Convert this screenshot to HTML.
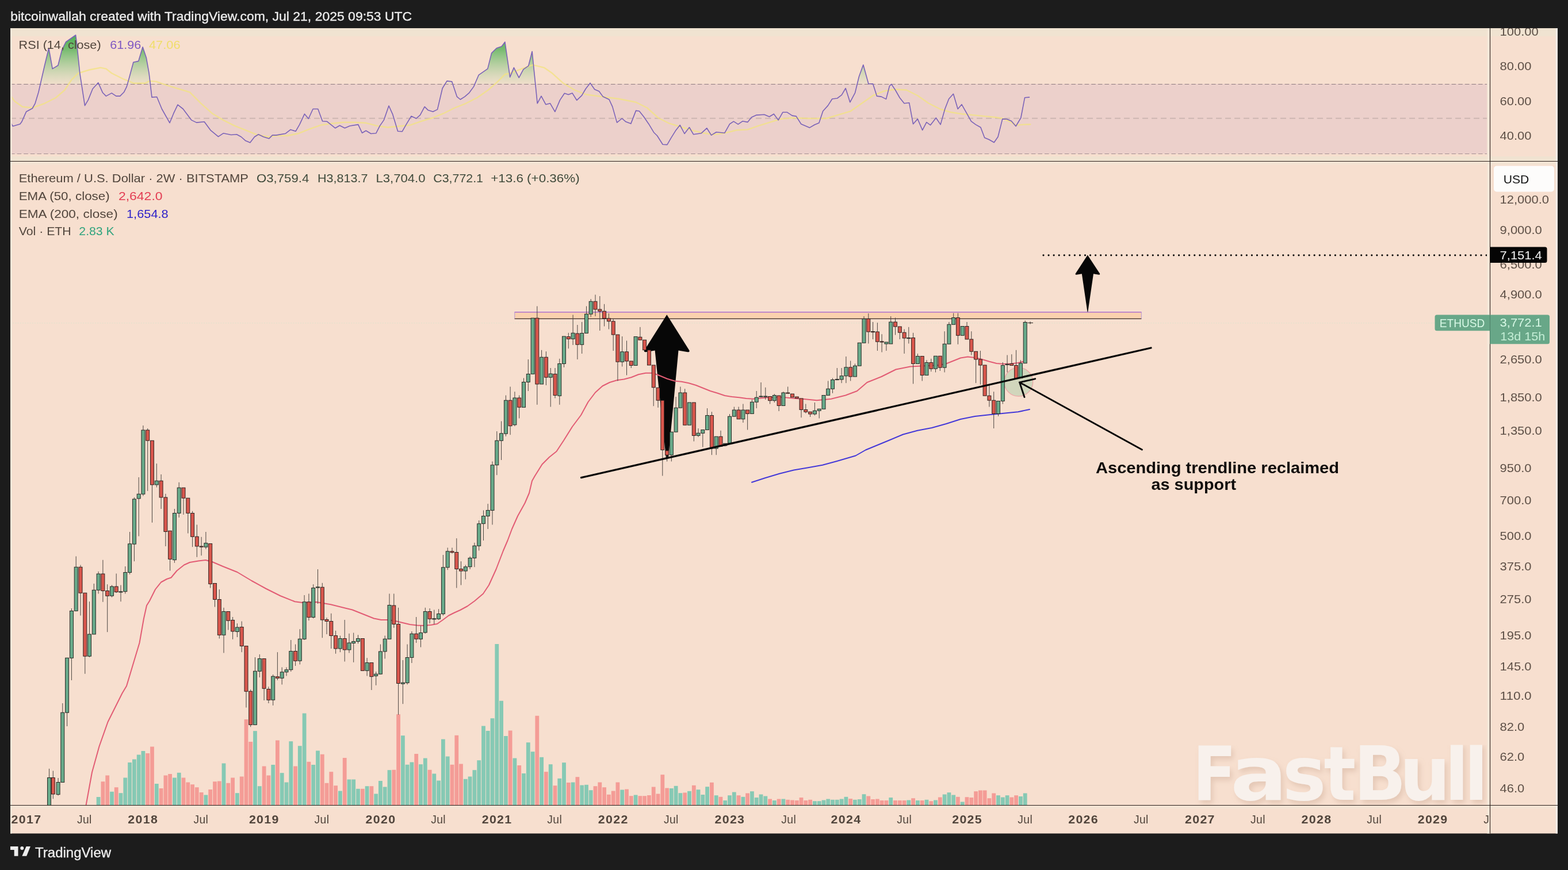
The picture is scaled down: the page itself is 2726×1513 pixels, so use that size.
<!DOCTYPE html>
<html lang="en"><head><meta charset="utf-8"><title>ETHUSD 2W chart</title>
<style>html,body{margin:0;padding:0;background:#1c1c1c;}body{width:2726px;height:1513px;font-family:"Liberation Sans", sans-serif;}svg{display:block;}text{font-family:"Liberation Sans", sans-serif;}</style>
</head><body>
<svg width="2726" height="1513" viewBox="0 0 2726 1513">
<defs>
<linearGradient id="rsig" gradientUnits="userSpaceOnUse" x1="0" y1="54" x2="0" y2="146"><stop offset="0" stop-color="#3fae4c" stop-opacity="1"/><stop offset="0.35" stop-color="#4caf50" stop-opacity="0.75"/><stop offset="1" stop-color="#8fce8f" stop-opacity="0.08"/></linearGradient>
<clipPath id="cpRsiTop"><rect x="18" y="49" width="2572.5" height="97"/></clipPath>
<clipPath id="cpRsi"><rect x="18" y="49" width="2572.5" height="231.5"/></clipPath>
<clipPath id="cpMain"><rect x="18" y="280.5" width="2572.5" height="1120"/></clipPath>
<clipPath id="cpTime"><rect x="18" y="1400.5" width="2572.5" height="49"/></clipPath>
<filter id="wmsh" x="-5%" y="-20%" width="110%" height="150%"><feDropShadow dx="4" dy="6" stdDeviation="5" flood-color="#b9927c" flood-opacity="0.30"/></filter>
</defs>
<rect x="0" y="0" width="2726" height="1513" fill="#1c1c1c"/>
<text x="18.2" y="36" font-size="22.5" fill="#ececec" stroke="#ececec" stroke-width="0.35" textLength="698" lengthAdjust="spacingAndGlyphs">bitcoinwallah created with TradingView.com, Jul 21, 2025 09:53 UTC</text>
<rect x="18" y="49" width="2690" height="1400.5" fill="#f7dfcf"/>
<rect x="18" y="49" width="2690" height="14" fill="#f0e3d1"/>
<rect x="18" y="272" width="2690" height="8.5" fill="#f0e3d1"/>
<g clip-path="url(#cpRsi)">
<rect x="18" y="146" width="2572.5" height="121.5" fill="#ecd0cb"/>
<path d="M18.4,146 L18.4,212.7 L22.3,219.5 L34.9,215.7 L37.8,211.8 L45.6,194.3 L56.3,188.5 L61.1,179.8 L67,160.3 L77.6,113.8 L84.8,83.7 L91.2,119.6 L100.9,113.8 L107.7,86.6 L114.5,73 L131.6,61 L133.9,78.8 L138.8,127.3 L147.5,183.6 L153.3,173.9 L161.1,154.5 L170.8,143.8 L178.6,161.3 L184.4,167.1 L194.1,161.9 L201.9,167.1 L208.7,167.1 L215.5,160.3 L220.3,150.6 L225.2,133.2 L231.9,108.3 L240.7,106.4 L248.1,81.7 L254.3,100.2 L259.1,127.3 L264,169.1 L272.7,168.5 L281.4,189.5 L295,213.7 L301.8,197.2 L309,182.1 L318.3,189.5 L332.9,208.9 L341.6,213.1 L355.2,211.8 L365.9,226.3 L379.5,237.6 L388.2,231.8 L401.8,234.5 L411.5,233.7 L419.3,238 L427,244.8 L434.8,248.1 L442.5,238 L449.3,233.7 L458.1,238 L467.8,240.9 L473.6,235.1 L480,235.1 L496.5,232.2 L505.2,225.4 L514,228.3 L520.8,216.6 L529.5,198.2 L536.3,206.5 L544.1,189.5 L552.8,189.5 L560.6,210.8 L568.3,211.2 L582.9,222.8 L590.6,218.2 L599.4,222.8 L608.1,219 L622.7,216.6 L629.5,231.2 L636.2,227.3 L645,232.5 L653.7,231.8 L660.5,218.6 L667.3,208.9 L676,184 L682.8,199.2 L691.6,228.3 L699.3,228.7 L706.1,216.6 L714.9,202.1 L723.6,206 L730.4,200.1 L738.2,185.6 L744,191.4 L752.7,194.3 L760.5,190.4 L769.2,153.5 L777,140.9 L785.7,141.9 L794.4,168.1 L800.3,173 L808,168.1 L815.8,161.3 L823.6,150.6 L832.3,130.3 L847.8,119.6 L854.6,92.4 L863.3,83.7 L872.1,80.8 L877.9,73 L886.6,134.1 L893.4,117.6 L902.2,135.1 L909.9,120.6 L918.7,114.7 L925.1,89.5 L934.2,179.8 L941,167.1 L948.8,181.7 L956.5,179.8 L964.9,194.3 L973.6,173.9 L981.4,162.3 L988.1,164.6 L994.9,161.9 L1002.7,174.3 L1011.4,166.2 L1018.2,154.5 L1026,144.4 L1033.8,155.5 L1041.5,158.8 L1048.3,168.1 L1059,173 L1064.8,185.6 L1072.6,213.1 L1081.3,206 L1088.1,211.8 L1096.8,215.1 L1105.6,192.4 L1111.4,193.3 L1119.2,203 L1127.9,215.7 L1136.6,230.2 L1142.5,236 L1152.2,251.2 L1159.9,251.6 L1166.7,239.9 L1174.5,227.3 L1182.2,217.6 L1190,232.5 L1198.4,221.5 L1205.5,233.7 L1219.1,231.8 L1228.8,222.8 L1236.6,235.1 L1245.3,229.8 L1259.9,231.2 L1268.6,215.7 L1275.4,211.2 L1283.2,216.2 L1290.9,210.8 L1299.7,212.4 L1306.5,204 L1315.2,200.1 L1328.8,199.2 L1337.5,203 L1345.3,198.2 L1353.1,208.9 L1360.8,195.3 L1368.6,195.3 L1377.3,201.1 L1384.1,202.1 L1392.8,215.7 L1407.4,222.1 L1416.1,217 L1423.9,213.7 L1430.7,193.3 L1439.4,183.6 L1446.8,172 L1455.5,171 L1463.3,165.2 L1470.1,153.5 L1477.8,177.8 L1486.6,161.3 L1493.4,133.2 L1500.8,112.8 L1509.9,145.8 L1517.6,145.8 L1524.4,167.1 L1532.2,168.1 L1540.5,172.4 L1546.4,149.7 L1549.7,146.4 L1556.5,156.5 L1564.2,170 L1572,179.8 L1580.7,178.8 L1587.5,215.7 L1595.3,206.9 L1603.6,226.3 L1610.8,212.7 L1617.6,217.6 L1627.3,205 L1635.1,216.6 L1642.8,189.5 L1649.6,172 L1657.4,163.3 L1665.2,189.5 L1671.9,181.7 L1680.7,197.2 L1688.4,210.8 L1696.2,216.6 L1704.9,221.5 L1711.7,239.5 L1719.5,242.8 L1728.2,247.7 L1735,238 L1742.8,206.9 L1750.6,207.3 L1758.3,210.4 L1766.1,219.5 L1774.8,205 L1781.6,169.7 L1789.4,169.1 L1789.4,146 Z" fill="url(#rsig)" clip-path="url(#cpRsiTop)"/>
<line x1="18" y1="146.5" x2="2590.5" y2="146.5" stroke="#8f7b80" stroke-width="1.1" stroke-dasharray="7.6 4"/>
<line x1="18" y1="205.7" x2="2590.5" y2="205.7" stroke="#cdb6b2" stroke-width="2" stroke-dasharray="10 6"/>
<line x1="18" y1="267.5" x2="2590.5" y2="267.5" stroke="#a48f92" stroke-width="1.1" stroke-dasharray="7.6 4"/>
<polyline points="18.4,166.2 25.2,175.9 38.8,185.6 56.3,187.5 77.6,179.8 97,170 112.6,156.5 124.2,139 135.9,127.3 155.3,121.5 174.7,117.6 184.4,119.6 194.1,127.3 213.5,137 232.9,144.8 252.3,144.8 260.1,140.9 271.7,141.9 291.1,148.7 310.6,154.5 330,160.3 349.4,179.8 368.8,197.2 388.2,208.9 407.6,218.6 427,226.3 446.4,234.1 465.8,238 480,236 499.4,236 518.8,232.2 538.2,224.4 557.6,217.6 577,214.7 596.5,212.7 615.9,212.7 635.3,213.7 654.7,218.6 674.1,221.5 693.5,219.5 712.9,217.6 732.3,210.8 751.7,205 771.1,197.2 790.6,187.5 810,179.8 829.4,170 848.8,156.5 864.3,142.9 877.9,129.3 887.6,127.3 907,119.6 926.4,112.8 945.8,117.6 960,127.3 979.4,144.8 998.8,156.5 1018.2,164.2 1047.3,168.1 1076.5,172 1105.6,177.8 1125,187.5 1144.4,205 1163.8,214.7 1183.2,220.5 1202.6,226.3 1222,231.2 1241.4,234.1 1260.9,231.2 1280.3,226.3 1299.7,225.4 1319.1,218.6 1338.5,212.7 1357.9,206.9 1377.3,205 1406.4,206 1435.5,206 1440,205 1459.4,199.2 1478.8,193.3 1498.2,179.8 1517.6,166.2 1537,158.4 1556.5,155.5 1575.9,156.5 1595.3,166.2 1614.7,179.8 1634.1,189.5 1653.5,195.3 1672.9,198.2 1692.3,200.1 1711.7,202.1 1731.1,204 1742.8,206 1754.4,210.8 1766.1,217.6 1779.7,216.6 1791.3,216.2" fill="none" stroke="#f2e283" stroke-width="2.4" stroke-linejoin="round" stroke-linecap="round" opacity="0.8"/>
<polyline points="18.4,212.7 22.3,219.5 34.9,215.7 37.8,211.8 45.6,194.3 56.3,188.5 61.1,179.8 67,160.3 77.6,113.8 84.8,83.7 91.2,119.6 100.9,113.8 107.7,86.6 114.5,73 131.6,61 133.9,78.8 138.8,127.3 147.5,183.6 153.3,173.9 161.1,154.5 170.8,143.8 178.6,161.3 184.4,167.1 194.1,161.9 201.9,167.1 208.7,167.1 215.5,160.3 220.3,150.6 225.2,133.2 231.9,108.3 240.7,106.4 248.1,81.7 254.3,100.2 259.1,127.3 264,169.1 272.7,168.5 281.4,189.5 295,213.7 301.8,197.2 309,182.1 318.3,189.5 332.9,208.9 341.6,213.1 355.2,211.8 365.9,226.3 379.5,237.6 388.2,231.8 401.8,234.5 411.5,233.7 419.3,238 427,244.8 434.8,248.1 442.5,238 449.3,233.7 458.1,238 467.8,240.9 473.6,235.1 480,235.1 496.5,232.2 505.2,225.4 514,228.3 520.8,216.6 529.5,198.2 536.3,206.5 544.1,189.5 552.8,189.5 560.6,210.8 568.3,211.2 582.9,222.8 590.6,218.2 599.4,222.8 608.1,219 622.7,216.6 629.5,231.2 636.2,227.3 645,232.5 653.7,231.8 660.5,218.6 667.3,208.9 676,184 682.8,199.2 691.6,228.3 699.3,228.7 706.1,216.6 714.9,202.1 723.6,206 730.4,200.1 738.2,185.6 744,191.4 752.7,194.3 760.5,190.4 769.2,153.5 777,140.9 785.7,141.9 794.4,168.1 800.3,173 808,168.1 815.8,161.3 823.6,150.6 832.3,130.3 847.8,119.6 854.6,92.4 863.3,83.7 872.1,80.8 877.9,73 886.6,134.1 893.4,117.6 902.2,135.1 909.9,120.6 918.7,114.7 925.1,89.5 934.2,179.8 941,167.1 948.8,181.7 956.5,179.8 964.9,194.3 973.6,173.9 981.4,162.3 988.1,164.6 994.9,161.9 1002.7,174.3 1011.4,166.2 1018.2,154.5 1026,144.4 1033.8,155.5 1041.5,158.8 1048.3,168.1 1059,173 1064.8,185.6 1072.6,213.1 1081.3,206 1088.1,211.8 1096.8,215.1 1105.6,192.4 1111.4,193.3 1119.2,203 1127.9,215.7 1136.6,230.2 1142.5,236 1152.2,251.2 1159.9,251.6 1166.7,239.9 1174.5,227.3 1182.2,217.6 1190,232.5 1198.4,221.5 1205.5,233.7 1219.1,231.8 1228.8,222.8 1236.6,235.1 1245.3,229.8 1259.9,231.2 1268.6,215.7 1275.4,211.2 1283.2,216.2 1290.9,210.8 1299.7,212.4 1306.5,204 1315.2,200.1 1328.8,199.2 1337.5,203 1345.3,198.2 1353.1,208.9 1360.8,195.3 1368.6,195.3 1377.3,201.1 1384.1,202.1 1392.8,215.7 1407.4,222.1 1416.1,217 1423.9,213.7 1430.7,193.3 1439.4,183.6 1446.8,172 1455.5,171 1463.3,165.2 1470.1,153.5 1477.8,177.8 1486.6,161.3 1493.4,133.2 1500.8,112.8 1509.9,145.8 1517.6,145.8 1524.4,167.1 1532.2,168.1 1540.5,172.4 1546.4,149.7 1549.7,146.4 1556.5,156.5 1564.2,170 1572,179.8 1580.7,178.8 1587.5,215.7 1595.3,206.9 1603.6,226.3 1610.8,212.7 1617.6,217.6 1627.3,205 1635.1,216.6 1642.8,189.5 1649.6,172 1657.4,163.3 1665.2,189.5 1671.9,181.7 1680.7,197.2 1688.4,210.8 1696.2,216.6 1704.9,221.5 1711.7,239.5 1719.5,242.8 1728.2,247.7 1735,238 1742.8,206.9 1750.6,207.3 1758.3,210.4 1766.1,219.5 1774.8,205 1781.6,169.7 1789.4,169.1" fill="none" stroke="#7a62b8" stroke-width="1.6" stroke-linejoin="round" stroke-linecap="round"/>
</g>
<text x="32.6" y="85" font-size="21" fill="#51453c" textLength="143" lengthAdjust="spacingAndGlyphs">RSI (14, close)</text>
<text x="191.2" y="85" font-size="21" fill="#7e57c2" textLength="54" lengthAdjust="spacingAndGlyphs">61.96</text>
<text x="259" y="85" font-size="21" fill="#f0de6a" textLength="54.5" lengthAdjust="spacingAndGlyphs">47.06</text>
<g clip-path="url(#cpMain)">
<line x1="18" y1="561.7" x2="2590.5" y2="561.7" stroke="#e6e2cd" stroke-width="1.6" stroke-dasharray="2 2.2"/>
<g><rect x="167.7" y="1386.0" width="6.8" height="14.5" fill="#86c9b4"/><rect x="175.5" y="1359.2" width="6.8" height="41.2" fill="#f49c96"/><rect x="183.3" y="1348.5" width="6.8" height="52.0" fill="#f49c96"/><rect x="191.1" y="1376.8" width="6.8" height="23.8" fill="#86c9b4"/><rect x="198.8" y="1369.2" width="6.8" height="31.2" fill="#f49c96"/><rect x="206.6" y="1379.2" width="6.8" height="21.2" fill="#86c9b4"/><rect x="214.4" y="1352.5" width="6.8" height="48.0" fill="#86c9b4"/><rect x="222.2" y="1326.0" width="6.8" height="74.5" fill="#86c9b4"/><rect x="230.0" y="1320.5" width="6.8" height="80.0" fill="#86c9b4"/><rect x="237.8" y="1312.5" width="6.8" height="88.0" fill="#86c9b4"/><rect x="245.5" y="1306.0" width="6.8" height="94.5" fill="#86c9b4"/><rect x="253.3" y="1310.0" width="6.8" height="90.5" fill="#f49c96"/><rect x="261.1" y="1298.5" width="6.8" height="102.0" fill="#f49c96"/><rect x="268.9" y="1363.0" width="6.8" height="37.5" fill="#86c9b4"/><rect x="276.7" y="1371.0" width="6.8" height="29.5" fill="#f49c96"/><rect x="284.5" y="1348.5" width="6.8" height="52.0" fill="#f49c96"/><rect x="292.2" y="1346.0" width="6.8" height="54.5" fill="#f49c96"/><rect x="300.0" y="1352.5" width="6.8" height="48.0" fill="#86c9b4"/><rect x="307.8" y="1343.8" width="6.8" height="56.8" fill="#86c9b4"/><rect x="315.6" y="1352.5" width="6.8" height="48.0" fill="#f49c96"/><rect x="323.4" y="1360.5" width="6.8" height="40.0" fill="#f49c96"/><rect x="331.2" y="1364.2" width="6.8" height="36.2" fill="#f49c96"/><rect x="338.9" y="1369.2" width="6.8" height="31.2" fill="#f49c96"/><rect x="346.7" y="1378.0" width="6.8" height="22.5" fill="#f49c96"/><rect x="354.5" y="1382.5" width="6.8" height="18.0" fill="#86c9b4"/><rect x="362.3" y="1373.0" width="6.8" height="27.5" fill="#f49c96"/><rect x="370.1" y="1359.2" width="6.8" height="41.2" fill="#f49c96"/><rect x="377.9" y="1358.5" width="6.8" height="42.0" fill="#f49c96"/><rect x="385.6" y="1327.5" width="6.8" height="73.0" fill="#86c9b4"/><rect x="393.4" y="1361.8" width="6.8" height="38.8" fill="#f49c96"/><rect x="401.2" y="1352.5" width="6.8" height="48.0" fill="#f49c96"/><rect x="409.0" y="1379.2" width="6.8" height="21.2" fill="#86c9b4"/><rect x="416.8" y="1350.5" width="6.8" height="50.0" fill="#f49c96"/><rect x="424.6" y="1251.0" width="6.8" height="149.5" fill="#f49c96"/><rect x="432.3" y="1290.0" width="6.8" height="110.5" fill="#f49c96"/><rect x="440.1" y="1271.2" width="6.8" height="129.2" fill="#86c9b4"/><rect x="447.9" y="1367.2" width="6.8" height="33.2" fill="#86c9b4"/><rect x="455.7" y="1332.5" width="6.8" height="68.0" fill="#f49c96"/><rect x="463.5" y="1348.5" width="6.8" height="52.0" fill="#f49c96"/><rect x="471.3" y="1330.0" width="6.8" height="70.5" fill="#86c9b4"/><rect x="479.0" y="1287.5" width="6.8" height="113.0" fill="#f49c96"/><rect x="486.8" y="1344.2" width="6.8" height="56.2" fill="#86c9b4"/><rect x="494.6" y="1360.5" width="6.8" height="40.0" fill="#86c9b4"/><rect x="502.4" y="1289.2" width="6.8" height="111.2" fill="#86c9b4"/><rect x="510.2" y="1332.5" width="6.8" height="68.0" fill="#f49c96"/><rect x="517.9" y="1297.2" width="6.8" height="103.2" fill="#86c9b4"/><rect x="525.7" y="1240.5" width="6.8" height="160.0" fill="#86c9b4"/><rect x="533.5" y="1324.8" width="6.8" height="75.8" fill="#f49c96"/><rect x="541.3" y="1330.0" width="6.8" height="70.5" fill="#86c9b4"/><rect x="549.1" y="1305.5" width="6.8" height="95.0" fill="#86c9b4"/><rect x="556.9" y="1311.8" width="6.8" height="88.8" fill="#f49c96"/><rect x="564.6" y="1361.8" width="6.8" height="38.8" fill="#f49c96"/><rect x="572.4" y="1342.2" width="6.8" height="58.2" fill="#f49c96"/><rect x="580.2" y="1366.2" width="6.8" height="34.2" fill="#f49c96"/><rect x="588.0" y="1375.5" width="6.8" height="25.0" fill="#86c9b4"/><rect x="595.8" y="1318.0" width="6.8" height="82.5" fill="#f49c96"/><rect x="603.6" y="1355.5" width="6.8" height="45.0" fill="#86c9b4"/><rect x="611.3" y="1355.5" width="6.8" height="45.0" fill="#86c9b4"/><rect x="619.1" y="1371.8" width="6.8" height="28.8" fill="#86c9b4"/><rect x="626.9" y="1371.8" width="6.8" height="28.8" fill="#f49c96"/><rect x="634.7" y="1367.2" width="6.8" height="33.2" fill="#86c9b4"/><rect x="642.5" y="1367.2" width="6.8" height="33.2" fill="#f49c96"/><rect x="650.3" y="1380.5" width="6.8" height="20.0" fill="#86c9b4"/><rect x="658.0" y="1358.0" width="6.8" height="42.5" fill="#86c9b4"/><rect x="665.8" y="1368.5" width="6.8" height="32.0" fill="#86c9b4"/><rect x="673.6" y="1339.2" width="6.8" height="61.2" fill="#86c9b4"/><rect x="681.4" y="1338.8" width="6.8" height="61.8" fill="#f49c96"/><rect x="689.2" y="1242.2" width="6.8" height="158.2" fill="#f49c96"/><rect x="697.0" y="1279.2" width="6.8" height="121.2" fill="#86c9b4"/><rect x="704.7" y="1329.8" width="6.8" height="70.8" fill="#86c9b4"/><rect x="712.5" y="1325.5" width="6.8" height="75.0" fill="#86c9b4"/><rect x="720.3" y="1311.0" width="6.8" height="89.5" fill="#f49c96"/><rect x="728.1" y="1329.2" width="6.8" height="71.2" fill="#86c9b4"/><rect x="735.9" y="1318.5" width="6.8" height="82.0" fill="#86c9b4"/><rect x="743.7" y="1338.8" width="6.8" height="61.8" fill="#f49c96"/><rect x="751.4" y="1345.5" width="6.8" height="55.0" fill="#86c9b4"/><rect x="759.2" y="1357.5" width="6.8" height="43.0" fill="#86c9b4"/><rect x="767.0" y="1285.5" width="6.8" height="115.0" fill="#86c9b4"/><rect x="774.8" y="1315.5" width="6.8" height="85.0" fill="#86c9b4"/><rect x="782.6" y="1329.8" width="6.8" height="70.8" fill="#f49c96"/><rect x="790.4" y="1278.8" width="6.8" height="121.8" fill="#f49c96"/><rect x="798.1" y="1328.5" width="6.8" height="72.0" fill="#f49c96"/><rect x="805.9" y="1354.8" width="6.8" height="45.8" fill="#86c9b4"/><rect x="813.7" y="1350.5" width="6.8" height="50.0" fill="#86c9b4"/><rect x="821.5" y="1339.2" width="6.8" height="61.2" fill="#86c9b4"/><rect x="829.3" y="1322.2" width="6.8" height="78.2" fill="#86c9b4"/><rect x="837.1" y="1262.5" width="6.8" height="138.0" fill="#86c9b4"/><rect x="844.8" y="1271.0" width="6.8" height="129.5" fill="#86c9b4"/><rect x="852.6" y="1249.2" width="6.8" height="151.2" fill="#86c9b4"/><rect x="860.4" y="1120.0" width="6.8" height="280.5" fill="#86c9b4"/><rect x="868.2" y="1218.8" width="6.8" height="181.8" fill="#86c9b4"/><rect x="876.0" y="1280.0" width="6.8" height="120.5" fill="#86c9b4"/><rect x="883.7" y="1270.5" width="6.8" height="130.0" fill="#f49c96"/><rect x="891.5" y="1318.5" width="6.8" height="82.0" fill="#86c9b4"/><rect x="899.3" y="1331.0" width="6.8" height="69.5" fill="#f49c96"/><rect x="907.1" y="1345.0" width="6.8" height="55.5" fill="#86c9b4"/><rect x="914.9" y="1291.2" width="6.8" height="109.2" fill="#86c9b4"/><rect x="922.7" y="1307.2" width="6.8" height="93.2" fill="#86c9b4"/><rect x="930.4" y="1244.8" width="6.8" height="155.8" fill="#f49c96"/><rect x="938.2" y="1316.8" width="6.8" height="83.8" fill="#86c9b4"/><rect x="946.0" y="1342.2" width="6.8" height="58.2" fill="#f49c96"/><rect x="953.8" y="1329.2" width="6.8" height="71.2" fill="#86c9b4"/><rect x="961.6" y="1366.2" width="6.8" height="34.2" fill="#f49c96"/><rect x="969.4" y="1353.8" width="6.8" height="46.8" fill="#86c9b4"/><rect x="977.1" y="1326.2" width="6.8" height="74.2" fill="#86c9b4"/><rect x="984.9" y="1361.0" width="6.8" height="39.5" fill="#f49c96"/><rect x="992.7" y="1360.5" width="6.8" height="40.0" fill="#86c9b4"/><rect x="1000.5" y="1351.2" width="6.8" height="49.2" fill="#f49c96"/><rect x="1008.3" y="1365.5" width="6.8" height="35.0" fill="#86c9b4"/><rect x="1016.1" y="1364.8" width="6.8" height="35.8" fill="#86c9b4"/><rect x="1023.8" y="1374.2" width="6.8" height="26.2" fill="#86c9b4"/><rect x="1031.6" y="1367.2" width="6.8" height="33.2" fill="#f49c96"/><rect x="1039.4" y="1360.5" width="6.8" height="40.0" fill="#f49c96"/><rect x="1047.2" y="1369.2" width="6.8" height="31.2" fill="#f49c96"/><rect x="1055.0" y="1381.8" width="6.8" height="18.8" fill="#f49c96"/><rect x="1062.8" y="1375.5" width="6.8" height="25.0" fill="#f49c96"/><rect x="1070.5" y="1360.5" width="6.8" height="40.0" fill="#f49c96"/><rect x="1078.3" y="1373.5" width="6.8" height="27.0" fill="#86c9b4"/><rect x="1086.1" y="1372.5" width="6.8" height="28.0" fill="#f49c96"/><rect x="1093.9" y="1384.2" width="6.8" height="16.2" fill="#f49c96"/><rect x="1101.7" y="1382.5" width="6.8" height="18.0" fill="#86c9b4"/><rect x="1109.5" y="1384.2" width="6.8" height="16.2" fill="#f49c96"/><rect x="1117.2" y="1384.2" width="6.8" height="16.2" fill="#f49c96"/><rect x="1125.0" y="1383.0" width="6.8" height="17.5" fill="#f49c96"/><rect x="1132.8" y="1368.5" width="6.8" height="32.0" fill="#f49c96"/><rect x="1140.6" y="1380.5" width="6.8" height="20.0" fill="#f49c96"/><rect x="1148.4" y="1347.2" width="6.8" height="53.2" fill="#f49c96"/><rect x="1156.2" y="1370.5" width="6.8" height="30.0" fill="#f49c96"/><rect x="1163.9" y="1371.0" width="6.8" height="29.5" fill="#86c9b4"/><rect x="1171.7" y="1366.8" width="6.8" height="33.8" fill="#86c9b4"/><rect x="1179.5" y="1379.2" width="6.8" height="21.2" fill="#86c9b4"/><rect x="1187.3" y="1378.5" width="6.8" height="22.0" fill="#f49c96"/><rect x="1195.1" y="1375.8" width="6.8" height="24.8" fill="#86c9b4"/><rect x="1202.9" y="1365.8" width="6.8" height="34.8" fill="#f49c96"/><rect x="1210.6" y="1373.2" width="6.8" height="27.2" fill="#86c9b4"/><rect x="1218.4" y="1382.0" width="6.8" height="18.5" fill="#86c9b4"/><rect x="1226.2" y="1368.2" width="6.8" height="32.2" fill="#86c9b4"/><rect x="1234.0" y="1360.8" width="6.8" height="39.8" fill="#f49c96"/><rect x="1241.8" y="1383.2" width="6.8" height="17.2" fill="#86c9b4"/><rect x="1249.5" y="1385.8" width="6.8" height="14.8" fill="#f49c96"/><rect x="1257.3" y="1392.0" width="6.8" height="8.5" fill="#86c9b4"/><rect x="1265.1" y="1383.2" width="6.8" height="17.2" fill="#86c9b4"/><rect x="1272.9" y="1377.5" width="6.8" height="23.0" fill="#86c9b4"/><rect x="1280.7" y="1383.2" width="6.8" height="17.2" fill="#f49c96"/><rect x="1288.5" y="1385.8" width="6.8" height="14.8" fill="#86c9b4"/><rect x="1296.2" y="1379.5" width="6.8" height="21.0" fill="#f49c96"/><rect x="1304.0" y="1376.2" width="6.8" height="24.2" fill="#86c9b4"/><rect x="1311.8" y="1387.0" width="6.8" height="13.5" fill="#86c9b4"/><rect x="1319.6" y="1381.5" width="6.8" height="19.0" fill="#86c9b4"/><rect x="1327.4" y="1384.5" width="6.8" height="16.0" fill="#86c9b4"/><rect x="1335.2" y="1389.5" width="6.8" height="11.0" fill="#f49c96"/><rect x="1342.9" y="1392.0" width="6.8" height="8.5" fill="#86c9b4"/><rect x="1350.7" y="1389.5" width="6.8" height="11.0" fill="#f49c96"/><rect x="1358.5" y="1389.5" width="6.8" height="11.0" fill="#86c9b4"/><rect x="1366.3" y="1390.8" width="6.8" height="9.8" fill="#f49c96"/><rect x="1374.1" y="1391.5" width="6.8" height="9.0" fill="#f49c96"/><rect x="1381.9" y="1392.0" width="6.8" height="8.5" fill="#f49c96"/><rect x="1389.6" y="1387.0" width="6.8" height="13.5" fill="#f49c96"/><rect x="1397.4" y="1392.0" width="6.8" height="8.5" fill="#f49c96"/><rect x="1405.2" y="1390.8" width="6.8" height="9.8" fill="#f49c96"/><rect x="1413.0" y="1393.2" width="6.8" height="7.2" fill="#86c9b4"/><rect x="1420.8" y="1393.2" width="6.8" height="7.2" fill="#86c9b4"/><rect x="1428.6" y="1391.5" width="6.8" height="9.0" fill="#86c9b4"/><rect x="1436.3" y="1389.5" width="6.8" height="11.0" fill="#86c9b4"/><rect x="1444.1" y="1390.8" width="6.8" height="9.8" fill="#86c9b4"/><rect x="1451.9" y="1390.8" width="6.8" height="9.8" fill="#86c9b4"/><rect x="1459.7" y="1389.5" width="6.8" height="11.0" fill="#86c9b4"/><rect x="1467.5" y="1385.8" width="6.8" height="14.8" fill="#86c9b4"/><rect x="1475.3" y="1389.0" width="6.8" height="11.5" fill="#f49c96"/><rect x="1483.0" y="1390.8" width="6.8" height="9.8" fill="#86c9b4"/><rect x="1490.8" y="1390.0" width="6.8" height="10.5" fill="#86c9b4"/><rect x="1498.6" y="1381.2" width="6.8" height="19.2" fill="#86c9b4"/><rect x="1506.4" y="1384.5" width="6.8" height="16.0" fill="#f49c96"/><rect x="1514.2" y="1390.0" width="6.8" height="10.5" fill="#f49c96"/><rect x="1522.0" y="1389.5" width="6.8" height="11.0" fill="#f49c96"/><rect x="1529.7" y="1392.0" width="6.8" height="8.5" fill="#f49c96"/><rect x="1537.5" y="1392.0" width="6.8" height="8.5" fill="#f49c96"/><rect x="1545.3" y="1387.0" width="6.8" height="13.5" fill="#86c9b4"/><rect x="1553.1" y="1392.0" width="6.8" height="8.5" fill="#f49c96"/><rect x="1560.9" y="1392.0" width="6.8" height="8.5" fill="#f49c96"/><rect x="1568.7" y="1392.0" width="6.8" height="8.5" fill="#f49c96"/><rect x="1576.4" y="1391.5" width="6.8" height="9.0" fill="#86c9b4"/><rect x="1584.2" y="1388.2" width="6.8" height="12.2" fill="#f49c96"/><rect x="1592.0" y="1392.0" width="6.8" height="8.5" fill="#86c9b4"/><rect x="1599.8" y="1392.0" width="6.8" height="8.5" fill="#f49c96"/><rect x="1607.6" y="1390.8" width="6.8" height="9.8" fill="#86c9b4"/><rect x="1615.4" y="1393.2" width="6.8" height="7.2" fill="#f49c96"/><rect x="1623.1" y="1391.5" width="6.8" height="9.0" fill="#86c9b4"/><rect x="1630.9" y="1386.5" width="6.8" height="14.0" fill="#f49c96"/><rect x="1638.7" y="1381.5" width="6.8" height="19.0" fill="#86c9b4"/><rect x="1646.5" y="1378.2" width="6.8" height="22.2" fill="#86c9b4"/><rect x="1654.3" y="1382.5" width="6.8" height="18.0" fill="#86c9b4"/><rect x="1662.0" y="1385.8" width="6.8" height="14.8" fill="#f49c96"/><rect x="1669.8" y="1394.5" width="6.8" height="6.0" fill="#86c9b4"/><rect x="1677.6" y="1386.2" width="6.8" height="14.2" fill="#f49c96"/><rect x="1685.4" y="1387.0" width="6.8" height="13.5" fill="#f49c96"/><rect x="1693.2" y="1376.2" width="6.8" height="24.2" fill="#f49c96"/><rect x="1701.0" y="1374.5" width="6.8" height="26.0" fill="#f49c96"/><rect x="1708.7" y="1374.5" width="6.8" height="26.0" fill="#f49c96"/><rect x="1716.5" y="1388.2" width="6.8" height="12.2" fill="#f49c96"/><rect x="1724.3" y="1379.5" width="6.8" height="21.0" fill="#f49c96"/><rect x="1732.1" y="1383.2" width="6.8" height="17.2" fill="#86c9b4"/><rect x="1739.9" y="1386.5" width="6.8" height="14.0" fill="#86c9b4"/><rect x="1747.7" y="1383.2" width="6.8" height="17.2" fill="#86c9b4"/><rect x="1755.4" y="1386.5" width="6.8" height="14.0" fill="#f49c96"/><rect x="1763.2" y="1383.2" width="6.8" height="17.2" fill="#f49c96"/><rect x="1771.0" y="1385.0" width="6.8" height="15.5" fill="#86c9b4"/><rect x="1778.8" y="1379.5" width="6.8" height="21.0" fill="#86c9b4"/></g>
<rect x="894.5" y="543.2" width="1090" height="11" fill="#fbd1ae"/>
<line x1="894.5" y1="542.8" x2="1984.5" y2="542.8" stroke="#9b59d0" stroke-width="1.2"/>
<line x1="894.5" y1="554.4" x2="1984.5" y2="554.4" stroke="#3a2c28" stroke-width="1.1"/>
<line x1="894.8" y1="542.8" x2="894.8" y2="554.4" stroke="#b79ad8" stroke-width="1"/>
<line x1="1984.3" y1="542.8" x2="1984.3" y2="554.4" stroke="#b79ad8" stroke-width="1"/>
<path d="M1159.3,547.2 L1198.3,609.3 Q1199.6,612.6 1195.6,612.2 L1179.5,609.6 L1161.9,796.5 Q1159.9,798.5 1157.9,796.5 L1138.6,609.6 L1122.6,612.2 Q1118.8,612.6 1120.2,609.3 Z" fill="#070707"/>
<circle cx="1770.8" cy="664.2" r="25" fill="#8cc79b" fill-opacity="0.36" stroke="#ee9aa0" stroke-width="1.2" stroke-opacity="0.85"/>
<polyline points="149.5,1400.5 160,1343 172.5,1298 187.5,1255.5 200,1230.5 212.5,1205.5 220,1193 227.5,1168 235,1143 242.5,1118 250,1075.5 255,1053 260,1045 270,1025 280,1012.5 290,1007 297.5,1004.5 307.5,992.5 320,982.5 330,978 345,975.5 357.5,974 370,977.5 387.5,985 412.5,995 437.5,1010 462.5,1023.75 487.5,1036.25 512.5,1046.25 527.5,1048.25 550,1047 575,1051.25 600,1057.5 612.5,1060.5 625,1065.5 637.5,1070.5 650,1075.5 662.5,1078 675,1078 687.5,1080 700,1083 712.5,1086 725,1087.5 737.5,1088 750,1086.75 760,1085 770,1078 780,1070.5 790,1065.5 800,1061 812.5,1054.25 825,1045.2 840,1032.5 850,1017.5 862.5,990 875,957.5 882.5,940 890,920 900,897.5 912.5,875 920,857.5 925,836.25 930,827.5 942.5,807.5 955,795 967.5,785 980,766 995,742 1010,722 1022.5,699 1035,682.5 1047.5,671.25 1060,665 1072.5,661.25 1085,659.5 1097.5,656.25 1110,651.25 1122.5,648.75 1135,648.75 1145,652.5 1160,658.75 1172.5,662.5 1185,663.75 1197.5,666.25 1210,670 1222.5,675 1235,680 1247.5,683.75 1260,688 1272.5,690 1285,691.25 1297.5,693 1310,693.75 1322.5,692.5 1335,691.25 1347.5,690.75 1360,690.75 1372.5,692 1385,693.25 1395,693.75 1420,696.25 1445,693.75 1470,687.5 1490,680 1507.5,665 1532.5,655 1557.5,642.5 1582.5,637.5 1607.5,636.25 1632.5,635 1645,632.5 1657.5,627.5 1670,622.5 1682.5,620.5 1695,622 1707.5,625 1720,628.75 1732.5,632 1745,633 1757.5,632.5 1770,631 1782.5,628" fill="none" stroke="#e25c74" stroke-width="2" stroke-linejoin="round" stroke-linecap="round"/>
<polyline points="1307,838.75 1330,831.25 1355,823.75 1380,817.5 1405,813.25 1430,808.75 1455,802 1487.5,792.5 1505,782.5 1525,774.25 1545,766 1570,755.5 1595,748.75 1620,744 1645,737 1670,729 1695,724 1720,721.25 1745,718.75 1770,716.25 1790,712" fill="none" stroke="#4338d8" stroke-width="2" stroke-linejoin="round" stroke-linecap="round"/>
<path d="M85.5,1336.8 V1400.5 M92.3,1340.5 V1389.2 M101.1,1353.0 V1383.5 M108.8,1223.0 V1360.5 M116.6,1144.2 V1263.0 M124.4,1058.0 V1183.0 M132.2,967.5 V1062.5 M140.0,982.5 V1070.5 M147.8,1031.2 V1171.8 M155.5,1046.2 V1143.0 M163.3,1015.0 V1103.0 M171.1,993.8 V1032.5 M178.9,973.8 V1046.8 M186.7,1016.2 V1099.2 M194.5,1017.5 V1038.8 M202.2,997.5 V1031.2 M210.0,1017.5 V1046.2 M217.8,985.0 V1032.5 M225.6,925.0 V998.8 M233.4,865.0 V976.2 M241.2,830.0 V932.5 M248.9,740.0 V862.5 M256.7,745.0 V853.8 M264.5,766.2 V908.8 M272.3,806.2 V847.5 M280.1,825.0 V885.0 M287.9,858.8 V950.0 M295.6,923.2 V992.5 M303.4,885.0 V978.8 M311.2,838.8 V900.0 M319.0,848.2 V895.0 M326.8,866.2 V927.5 M334.6,888.8 V951.2 M342.3,912.5 V968.8 M350.1,933.8 V966.2 M357.9,925.0 V955.0 M365.7,945.5 V1022.5 M373.5,1014.5 V1055.5 M381.3,1025.0 V1110.5 M389.0,1056.8 V1135.5 M396.8,1063.5 V1095.5 M404.6,1073.0 V1111.8 M412.4,1084.2 V1108.0 M420.2,1080.5 V1134.2 M428.0,1123.5 V1230.5 M435.7,1199.2 V1264.2 M443.5,1143.0 V1260.5 M451.3,1138.0 V1178.0 M459.1,1145.5 V1218.0 M466.9,1194.2 V1223.0 M474.7,1173.0 V1226.8 M482.4,1134.2 V1183.0 M490.2,1160.5 V1190.5 M498.0,1160.5 V1175.5 M505.8,1113.0 V1168.0 M513.6,1120.5 V1158.0 M521.3,1094.2 V1155.5 M529.1,1035.0 V1113.0 M536.9,1032.5 V1079.2 M544.7,1016.2 V1075.5 M552.5,990.0 V1050.0 M560.3,1013.8 V1109.2 M568.0,1074.2 V1103.0 M575.8,1066.8 V1128.0 M583.6,1096.8 V1136.8 M591.4,1105.5 V1134.2 M599.2,1078.0 V1150.5 M607.0,1101.8 V1135.5 M614.7,1100.5 V1151.8 M622.5,1104.2 V1119.2 M630.3,1110.5 V1166.8 M638.1,1144.2 V1175.5 M645.9,1152.5 V1200.0 M653.7,1168.0 V1191.8 M661.4,1120.5 V1173.0 M669.2,1105.5 V1145.5 M677.0,1032.5 V1111.2 M684.8,1032.5 V1091.8 M692.6,1056.8 V1243.0 M700.4,1148.0 V1224.2 M708.1,1120.5 V1190.5 M715.9,1098.0 V1153.0 M723.7,1073.0 V1118.0 M731.5,1088.0 V1125.5 M739.3,1056.8 V1101.8 M747.1,1058.0 V1084.2 M754.8,1060.5 V1085.5 M762.6,1059.2 V1078.0 M770.4,965.0 V1070.5 M778.2,952.5 V991.2 M786.0,952.5 V962.5 M793.8,936.2 V1022.5 M801.5,976.2 V1017.5 M809.3,982.5 V1007.5 M817.1,967.5 V990.0 M824.9,943.8 V986.2 M832.7,905.0 V957.5 M840.5,887.5 V940.0 M848.2,876.2 V920.0 M856.0,802.5 V912.5 M863.8,750.0 V826.2 M871.6,732.5 V800.0 M879.4,687.5 V758.8 M887.1,672.5 V756.2 M894.9,681.2 V741.2 M902.7,687.5 V727.5 M910.5,657.5 V708.2 M918.3,625.0 V680.0 M926.1,553.2 V650.5 M933.8,532.5 V703.8 M941.6,608.8 V668.0 M949.4,611.2 V670.0 M957.2,640.0 V707.5 M965.0,640.0 V692.5 M972.8,623.8 V703.8 M980.5,585.0 V638.8 M988.3,578.8 V606.2 M996.1,547.5 V600.0 M1003.9,565.0 V625.0 M1011.7,560.0 V615.0 M1019.5,532.5 V579.5 M1027.2,520.0 V551.2 M1035.0,512.5 V550.0 M1042.8,515.0 V575.0 M1050.6,528.8 V567.5 M1058.4,545.0 V572.5 M1066.2,553.8 V610.0 M1073.9,582.0 V662.5 M1081.7,585.0 V637.5 M1089.5,592.5 V652.5 M1097.3,628.0 V640.0 M1105.1,585.5 V635.5 M1112.9,568.8 V591.2 M1120.6,591.2 V608.8 M1128.4,608.8 V635.0 M1136.2,635.0 V706.2 M1144.0,674.2 V708.8 M1151.8,696.2 V827.5 M1159.6,783.8 V802.5 M1167.3,751.2 V802.5 M1175.1,690.0 V751.2 M1182.9,672.5 V709.2 M1190.7,676.2 V739.2 M1198.5,700.0 V739.2 M1206.3,700.0 V767.5 M1214.0,745.0 V760.0 M1221.8,747.5 V777.5 M1229.6,710.0 V747.5 M1237.4,716.2 V791.2 M1245.2,759.2 V791.2 M1253.0,748.8 V776.2 M1260.7,771.2 V776.2 M1268.5,720.0 V771.2 M1276.3,707.5 V724.2 M1284.1,707.5 V728.8 M1291.9,702.5 V735.0 M1299.6,713.0 V747.5 M1307.4,695.0 V719.5 M1315.2,680.0 V710.0 M1323.0,665.0 V690.5 M1330.8,673.8 V695.0 M1338.6,689.5 V702.5 M1346.3,685.0 V700.0 M1354.1,688.0 V715.0 M1361.9,681.2 V705.5 M1369.7,672.5 V684.0 M1377.5,685.0 V690.8 M1385.3,690.0 V692.5 M1393.0,693.0 V726.2 M1400.8,702.5 V718.8 M1408.6,716.2 V725.0 M1416.4,700.0 V722.5 M1424.2,711.2 V727.5 M1432.0,687.5 V711.2 M1439.7,662.5 V687.5 M1447.5,657.5 V683.8 M1455.3,640.0 V661.2 M1463.1,640.0 V666.2 M1470.9,620.0 V666.2 M1478.7,627.5 V662.5 M1486.4,632.5 V655.0 M1494.2,596.2 V636.2 M1502.0,550.0 V596.2 M1509.8,545.0 V597.5 M1517.6,560.0 V590.0 M1525.4,561.2 V610.0 M1533.1,581.2 V612.5 M1540.9,595.0 V610.0 M1548.7,550.0 V598.0 M1556.5,552.5 V582.5 M1564.3,568.0 V590.0 M1572.1,572.5 V615.0 M1579.8,568.8 V597.5 M1587.6,578.8 V667.5 M1595.4,615.0 V632.5 M1603.2,619.5 V662.5 M1611.0,626.2 V652.5 M1618.8,623.8 V646.2 M1626.5,619.2 V647.5 M1634.3,619.2 V645.0 M1642.1,576.2 V647.5 M1649.9,560.0 V598.2 M1657.7,544.5 V564.2 M1665.4,544.5 V598.8 M1673.2,567.5 V583.2 M1681.0,560.0 V590.0 M1688.8,576.2 V617.5 M1696.6,611.2 V666.2 M1704.4,610.0 V668.8 M1712.1,635.0 V688.2 M1719.9,668.8 V707.5 M1727.7,681.2 V745.0 M1735.5,697.5 V723.8 M1743.3,630.0 V702.5 M1751.1,617.5 V647.5 M1758.8,616.2 V635.5 M1766.6,608.8 V657.5 M1774.4,626.2 V657.5 M1782.2,557.5 V631.8" stroke="#4a4540" stroke-width="1" fill="none"/>
<g stroke="#1d1a18" stroke-width="0.9"><rect x="82.5" y="1352.5" width="6" height="48.0" fill="#68aa8a"/><rect x="89.3" y="1352.5" width="6" height="28.5" fill="#d8564c"/><rect x="98.1" y="1360.5" width="6" height="21.2" fill="#68aa8a"/><rect x="105.8" y="1239.2" width="6" height="121.2" fill="#68aa8a"/><rect x="113.6" y="1144.2" width="6" height="95.0" fill="#68aa8a"/><rect x="121.4" y="1062.5" width="6" height="81.8" fill="#68aa8a"/><rect x="129.2" y="986.2" width="6" height="76.2" fill="#68aa8a"/><rect x="137.0" y="986.2" width="6" height="45.0" fill="#d8564c"/><rect x="144.8" y="1031.2" width="6" height="110.0" fill="#d8564c"/><rect x="152.5" y="1103.0" width="6" height="38.2" fill="#68aa8a"/><rect x="160.3" y="1026.2" width="6" height="76.8" fill="#68aa8a"/><rect x="168.1" y="998.0" width="6" height="28.2" fill="#68aa8a"/><rect x="175.9" y="998.0" width="6" height="29.5" fill="#d8564c"/><rect x="183.7" y="1027.5" width="6" height="8.8" fill="#d8564c"/><rect x="191.5" y="1020.0" width="6" height="16.2" fill="#68aa8a"/><rect x="199.2" y="1020.0" width="6" height="9.5" fill="#d8564c"/><rect x="207.0" y="1028.8" width="6" height="1.2" fill="#68aa8a"/><rect x="214.8" y="995.5" width="6" height="33.2" fill="#68aa8a"/><rect x="222.6" y="945.8" width="6" height="49.8" fill="#68aa8a"/><rect x="230.4" y="868.0" width="6" height="78.2" fill="#68aa8a"/><rect x="238.2" y="859.2" width="6" height="7.8" fill="#68aa8a"/><rect x="245.9" y="748.0" width="6" height="111.2" fill="#68aa8a"/><rect x="253.7" y="748.0" width="6" height="18.2" fill="#d8564c"/><rect x="261.5" y="766.2" width="6" height="76.8" fill="#d8564c"/><rect x="269.3" y="836.2" width="6" height="6.8" fill="#68aa8a"/><rect x="277.1" y="836.2" width="6" height="28.8" fill="#d8564c"/><rect x="284.9" y="865.0" width="6" height="59.5" fill="#d8564c"/><rect x="292.6" y="923.2" width="6" height="49.2" fill="#d8564c"/><rect x="300.4" y="892.5" width="6" height="81.2" fill="#68aa8a"/><rect x="308.2" y="848.2" width="6" height="44.2" fill="#68aa8a"/><rect x="316.0" y="848.2" width="6" height="18.0" fill="#d8564c"/><rect x="323.8" y="866.2" width="6" height="26.2" fill="#d8564c"/><rect x="331.6" y="892.5" width="6" height="40.8" fill="#d8564c"/><rect x="339.3" y="933.2" width="6" height="16.8" fill="#d8564c"/><rect x="347.1" y="950.0" width="6" height="1.2" fill="#d8564c"/><rect x="354.9" y="944.5" width="6" height="6.8" fill="#68aa8a"/><rect x="362.7" y="945.5" width="6" height="70.0" fill="#d8564c"/><rect x="370.5" y="1014.5" width="6" height="28.0" fill="#d8564c"/><rect x="378.3" y="1042.5" width="6" height="61.8" fill="#d8564c"/><rect x="386.0" y="1063.5" width="6" height="40.8" fill="#68aa8a"/><rect x="393.8" y="1063.5" width="6" height="15.8" fill="#d8564c"/><rect x="401.6" y="1078.5" width="6" height="19.5" fill="#d8564c"/><rect x="409.4" y="1091.0" width="6" height="7.5" fill="#68aa8a"/><rect x="417.2" y="1090.5" width="6" height="33.0" fill="#d8564c"/><rect x="425.0" y="1123.5" width="6" height="78.8" fill="#d8564c"/><rect x="432.7" y="1202.2" width="6" height="58.2" fill="#d8564c"/><rect x="440.5" y="1167.2" width="6" height="93.2" fill="#68aa8a"/><rect x="448.3" y="1145.5" width="6" height="21.8" fill="#68aa8a"/><rect x="456.1" y="1145.5" width="6" height="51.8" fill="#d8564c"/><rect x="463.9" y="1198.5" width="6" height="18.8" fill="#d8564c"/><rect x="471.7" y="1176.2" width="6" height="41.0" fill="#68aa8a"/><rect x="479.4" y="1176.8" width="6" height="2.5" fill="#d8564c"/><rect x="487.2" y="1168.8" width="6" height="10.5" fill="#68aa8a"/><rect x="495.0" y="1164.8" width="6" height="4.0" fill="#68aa8a"/><rect x="502.8" y="1132.5" width="6" height="32.2" fill="#68aa8a"/><rect x="510.6" y="1132.5" width="6" height="16.8" fill="#d8564c"/><rect x="518.3" y="1111.2" width="6" height="38.0" fill="#68aa8a"/><rect x="526.1" y="1046.8" width="6" height="64.5" fill="#68aa8a"/><rect x="533.9" y="1046.8" width="6" height="26.8" fill="#d8564c"/><rect x="541.7" y="1022.5" width="6" height="51.0" fill="#68aa8a"/><rect x="549.5" y="1020.8" width="6" height="1.2" fill="#68aa8a"/><rect x="557.3" y="1021.2" width="6" height="56.8" fill="#d8564c"/><rect x="565.0" y="1077.5" width="6" height="3.0" fill="#d8564c"/><rect x="572.8" y="1080.5" width="6" height="25.0" fill="#d8564c"/><rect x="580.6" y="1105.5" width="6" height="22.5" fill="#d8564c"/><rect x="588.4" y="1110.5" width="6" height="17.5" fill="#68aa8a"/><rect x="596.2" y="1110.5" width="6" height="19.5" fill="#d8564c"/><rect x="604.0" y="1118.0" width="6" height="12.0" fill="#68aa8a"/><rect x="611.7" y="1115.5" width="6" height="3.0" fill="#68aa8a"/><rect x="619.5" y="1110.5" width="6" height="5.0" fill="#68aa8a"/><rect x="627.3" y="1110.5" width="6" height="55.8" fill="#d8564c"/><rect x="635.1" y="1152.5" width="6" height="13.8" fill="#68aa8a"/><rect x="642.9" y="1152.5" width="6" height="24.2" fill="#d8564c"/><rect x="650.7" y="1172.2" width="6" height="3.2" fill="#68aa8a"/><rect x="658.4" y="1133.0" width="6" height="39.2" fill="#68aa8a"/><rect x="666.2" y="1111.2" width="6" height="21.8" fill="#68aa8a"/><rect x="674.0" y="1052.5" width="6" height="58.8" fill="#68aa8a"/><rect x="681.8" y="1053.0" width="6" height="32.5" fill="#d8564c"/><rect x="689.6" y="1085.5" width="6" height="103.0" fill="#d8564c"/><rect x="697.4" y="1187.2" width="6" height="2.0" fill="#68aa8a"/><rect x="705.1" y="1143.5" width="6" height="44.0" fill="#68aa8a"/><rect x="712.9" y="1102.2" width="6" height="41.2" fill="#68aa8a"/><rect x="720.7" y="1102.2" width="6" height="9.0" fill="#d8564c"/><rect x="728.5" y="1100.5" width="6" height="10.8" fill="#68aa8a"/><rect x="736.3" y="1063.5" width="6" height="36.5" fill="#68aa8a"/><rect x="744.1" y="1063.5" width="6" height="12.8" fill="#d8564c"/><rect x="751.8" y="1075.8" width="6" height="1.2" fill="#68aa8a"/><rect x="759.6" y="1067.5" width="6" height="8.8" fill="#68aa8a"/><rect x="767.4" y="986.8" width="6" height="80.8" fill="#68aa8a"/><rect x="775.2" y="958.8" width="6" height="28.0" fill="#68aa8a"/><rect x="783.0" y="958.8" width="6" height="2.0" fill="#d8564c"/><rect x="790.8" y="960.5" width="6" height="29.0" fill="#d8564c"/><rect x="798.5" y="989.5" width="6" height="3.5" fill="#d8564c"/><rect x="806.3" y="985.8" width="6" height="7.2" fill="#68aa8a"/><rect x="814.1" y="970.5" width="6" height="15.2" fill="#68aa8a"/><rect x="821.9" y="949.2" width="6" height="21.2" fill="#68aa8a"/><rect x="829.7" y="910.8" width="6" height="38.5" fill="#68aa8a"/><rect x="837.5" y="897.5" width="6" height="13.2" fill="#68aa8a"/><rect x="845.2" y="887.5" width="6" height="10.0" fill="#68aa8a"/><rect x="853.0" y="808.8" width="6" height="78.8" fill="#68aa8a"/><rect x="860.8" y="766.2" width="6" height="42.5" fill="#68aa8a"/><rect x="868.6" y="753.8" width="6" height="12.5" fill="#68aa8a"/><rect x="876.4" y="696.2" width="6" height="58.0" fill="#68aa8a"/><rect x="884.1" y="696.2" width="6" height="44.5" fill="#d8564c"/><rect x="891.9" y="692.0" width="6" height="46.8" fill="#68aa8a"/><rect x="899.7" y="692.0" width="6" height="16.2" fill="#d8564c"/><rect x="907.5" y="664.5" width="6" height="43.8" fill="#68aa8a"/><rect x="915.3" y="650.5" width="6" height="14.0" fill="#68aa8a"/><rect x="923.1" y="553.2" width="6" height="97.2" fill="#68aa8a"/><rect x="930.8" y="553.2" width="6" height="114.8" fill="#d8564c"/><rect x="938.6" y="621.2" width="6" height="46.8" fill="#68aa8a"/><rect x="946.4" y="621.2" width="6" height="35.0" fill="#d8564c"/><rect x="954.2" y="650.0" width="6" height="6.2" fill="#68aa8a"/><rect x="962.0" y="650.5" width="6" height="37.0" fill="#d8564c"/><rect x="969.8" y="632.5" width="6" height="55.8" fill="#68aa8a"/><rect x="977.5" y="585.0" width="6" height="47.5" fill="#68aa8a"/><rect x="985.3" y="585.5" width="6" height="4.0" fill="#d8564c"/><rect x="993.1" y="579.2" width="6" height="10.2" fill="#68aa8a"/><rect x="1000.9" y="580.0" width="6" height="19.2" fill="#d8564c"/><rect x="1008.7" y="579.5" width="6" height="19.8" fill="#68aa8a"/><rect x="1016.5" y="546.2" width="6" height="33.2" fill="#68aa8a"/><rect x="1024.2" y="524.2" width="6" height="22.0" fill="#68aa8a"/><rect x="1032.0" y="524.2" width="6" height="13.8" fill="#d8564c"/><rect x="1039.8" y="538.0" width="6" height="3.2" fill="#d8564c"/><rect x="1047.6" y="541.2" width="6" height="12.5" fill="#d8564c"/><rect x="1055.4" y="553.8" width="6" height="5.0" fill="#d8564c"/><rect x="1063.2" y="558.8" width="6" height="23.2" fill="#d8564c"/><rect x="1070.9" y="582.0" width="6" height="47.2" fill="#d8564c"/><rect x="1078.7" y="611.8" width="6" height="17.5" fill="#68aa8a"/><rect x="1086.5" y="611.8" width="6" height="16.2" fill="#d8564c"/><rect x="1094.3" y="628.0" width="6" height="7.5" fill="#d8564c"/><rect x="1102.1" y="585.5" width="6" height="50.0" fill="#68aa8a"/><rect x="1109.9" y="586.2" width="6" height="5.0" fill="#d8564c"/><rect x="1117.6" y="591.2" width="6" height="17.5" fill="#d8564c"/><rect x="1125.4" y="608.8" width="6" height="26.2" fill="#d8564c"/><rect x="1133.2" y="635.0" width="6" height="38.8" fill="#d8564c"/><rect x="1141.0" y="674.2" width="6" height="22.0" fill="#d8564c"/><rect x="1148.8" y="696.2" width="6" height="86.2" fill="#d8564c"/><rect x="1156.6" y="783.8" width="6" height="7.5" fill="#d8564c"/><rect x="1164.3" y="751.2" width="6" height="40.0" fill="#68aa8a"/><rect x="1172.1" y="709.2" width="6" height="42.0" fill="#68aa8a"/><rect x="1179.9" y="683.0" width="6" height="26.2" fill="#68aa8a"/><rect x="1187.7" y="683.0" width="6" height="56.2" fill="#d8564c"/><rect x="1195.5" y="700.0" width="6" height="39.2" fill="#68aa8a"/><rect x="1203.3" y="700.0" width="6" height="57.5" fill="#d8564c"/><rect x="1211.0" y="753.2" width="6" height="4.2" fill="#68aa8a"/><rect x="1218.8" y="747.5" width="6" height="5.8" fill="#68aa8a"/><rect x="1226.6" y="722.5" width="6" height="25.0" fill="#68aa8a"/><rect x="1234.4" y="722.5" width="6" height="57.5" fill="#d8564c"/><rect x="1242.2" y="759.2" width="6" height="20.8" fill="#68aa8a"/><rect x="1250.0" y="759.2" width="6" height="17.0" fill="#d8564c"/><rect x="1257.7" y="771.2" width="6" height="3.8" fill="#68aa8a"/><rect x="1265.5" y="724.2" width="6" height="47.0" fill="#68aa8a"/><rect x="1273.3" y="713.0" width="6" height="11.2" fill="#68aa8a"/><rect x="1281.1" y="713.0" width="6" height="15.8" fill="#d8564c"/><rect x="1288.9" y="713.0" width="6" height="15.8" fill="#68aa8a"/><rect x="1296.6" y="713.0" width="6" height="6.5" fill="#d8564c"/><rect x="1304.4" y="699.2" width="6" height="20.2" fill="#68aa8a"/><rect x="1312.2" y="691.2" width="6" height="8.0" fill="#68aa8a"/><rect x="1320.0" y="689.0" width="6" height="1.2" fill="#68aa8a"/><rect x="1327.8" y="689.0" width="6" height="1.2" fill="#68aa8a"/><rect x="1335.6" y="689.5" width="6" height="7.2" fill="#d8564c"/><rect x="1343.3" y="687.5" width="6" height="9.2" fill="#68aa8a"/><rect x="1351.1" y="688.0" width="6" height="17.5" fill="#d8564c"/><rect x="1358.9" y="683.0" width="6" height="22.5" fill="#68aa8a"/><rect x="1366.7" y="683.0" width="6" height="1.2" fill="#d8564c"/><rect x="1374.5" y="685.0" width="6" height="5.8" fill="#d8564c"/><rect x="1382.3" y="690.0" width="6" height="2.5" fill="#d8564c"/><rect x="1390.0" y="693.0" width="6" height="19.5" fill="#d8564c"/><rect x="1397.8" y="712.5" width="6" height="3.8" fill="#d8564c"/><rect x="1405.6" y="716.2" width="6" height="3.8" fill="#d8564c"/><rect x="1413.4" y="714.2" width="6" height="5.8" fill="#68aa8a"/><rect x="1421.2" y="711.2" width="6" height="3.0" fill="#68aa8a"/><rect x="1429.0" y="687.5" width="6" height="23.8" fill="#68aa8a"/><rect x="1436.7" y="676.2" width="6" height="11.2" fill="#68aa8a"/><rect x="1444.5" y="660.5" width="6" height="15.8" fill="#68aa8a"/><rect x="1452.3" y="659.5" width="6" height="1.2" fill="#68aa8a"/><rect x="1460.1" y="653.8" width="6" height="6.2" fill="#68aa8a"/><rect x="1467.9" y="638.8" width="6" height="15.0" fill="#68aa8a"/><rect x="1475.7" y="638.8" width="6" height="16.2" fill="#d8564c"/><rect x="1483.4" y="636.2" width="6" height="18.8" fill="#68aa8a"/><rect x="1491.2" y="596.2" width="6" height="40.0" fill="#68aa8a"/><rect x="1499.0" y="554.5" width="6" height="41.8" fill="#68aa8a"/><rect x="1506.8" y="554.5" width="6" height="22.5" fill="#d8564c"/><rect x="1514.6" y="576.5" width="6" height="1.2" fill="#d8564c"/><rect x="1522.4" y="577.0" width="6" height="17.2" fill="#d8564c"/><rect x="1530.1" y="593.8" width="6" height="1.2" fill="#d8564c"/><rect x="1537.9" y="595.0" width="6" height="3.0" fill="#68aa8a"/><rect x="1545.7" y="560.0" width="6" height="38.0" fill="#68aa8a"/><rect x="1553.5" y="560.0" width="6" height="8.0" fill="#d8564c"/><rect x="1561.3" y="568.0" width="6" height="10.2" fill="#d8564c"/><rect x="1569.1" y="578.2" width="6" height="9.8" fill="#d8564c"/><rect x="1576.8" y="587.5" width="6" height="1.2" fill="#68aa8a"/><rect x="1584.6" y="587.5" width="6" height="45.0" fill="#d8564c"/><rect x="1592.4" y="619.5" width="6" height="13.0" fill="#68aa8a"/><rect x="1600.2" y="619.5" width="6" height="33.0" fill="#d8564c"/><rect x="1608.0" y="630.5" width="6" height="22.0" fill="#68aa8a"/><rect x="1615.8" y="630.5" width="6" height="10.8" fill="#d8564c"/><rect x="1623.5" y="619.2" width="6" height="22.0" fill="#68aa8a"/><rect x="1631.3" y="619.2" width="6" height="20.0" fill="#d8564c"/><rect x="1639.1" y="598.2" width="6" height="41.0" fill="#68aa8a"/><rect x="1646.9" y="564.2" width="6" height="34.0" fill="#68aa8a"/><rect x="1654.7" y="552.5" width="6" height="11.8" fill="#68aa8a"/><rect x="1662.4" y="552.5" width="6" height="30.8" fill="#d8564c"/><rect x="1670.2" y="567.5" width="6" height="15.8" fill="#68aa8a"/><rect x="1678.0" y="567.5" width="6" height="22.5" fill="#d8564c"/><rect x="1685.8" y="590.0" width="6" height="21.2" fill="#d8564c"/><rect x="1693.6" y="611.2" width="6" height="13.8" fill="#d8564c"/><rect x="1701.4" y="625.0" width="6" height="10.0" fill="#d8564c"/><rect x="1709.1" y="635.0" width="6" height="53.2" fill="#d8564c"/><rect x="1716.9" y="688.2" width="6" height="8.0" fill="#d8564c"/><rect x="1724.7" y="696.2" width="6" height="23.2" fill="#d8564c"/><rect x="1732.5" y="697.5" width="6" height="22.0" fill="#68aa8a"/><rect x="1740.3" y="635.5" width="6" height="62.0" fill="#68aa8a"/><rect x="1748.1" y="633.2" width="6" height="1.2" fill="#68aa8a"/><rect x="1755.8" y="632.5" width="6" height="3.0" fill="#d8564c"/><rect x="1763.6" y="635.5" width="6" height="22.0" fill="#d8564c"/><rect x="1771.4" y="631.8" width="6" height="25.8" fill="#68aa8a"/><rect x="1779.2" y="560.5" width="6" height="71.2" fill="#68aa8a"/></g>
<path d="M1786.5,561.5 H1796 M1791,559.3 V563.7" stroke="#2b2622" stroke-width="1" fill="none"/>
<line x1="1010.5" y1="830.6" x2="2001" y2="605" stroke="#070707" stroke-width="3.3" stroke-linecap="round"/>
<path d="M1985.4,782 L1772.6,665 M1799.7,658.8 L1772.6,665 L1781,690.6" fill="none" stroke="#070707" stroke-width="2.9" stroke-linecap="round" stroke-linejoin="miter"/>
<path d="M1890.8,443.6 L1912,475.8 Q1912.9,478.2 1910.3,477.8 L1901,476.2 L1891.3,542.6 L1890.5,542.6 L1880.8,476.2 L1871.5,477.8 Q1868.9,478.2 1869.8,475.8 Z" fill="#070707"/>
<line x1="1814" y1="443.8" x2="2590.5" y2="443.8" stroke="#070707" stroke-width="3.2" stroke-dasharray="0.01 9.05" stroke-linecap="round"/>
<text x="1905" y="822.5" font-size="27.5" font-weight="bold" fill="#0f0c0b" textLength="423" lengthAdjust="spacingAndGlyphs">Ascending trendline reclaimed</text>
<text x="2001.5" y="851.8" font-size="27.5" font-weight="bold" fill="#0f0c0b" textLength="147.5" lengthAdjust="spacingAndGlyphs">as support</text>
<clipPath id="cpWm"><rect x="2040" y="1295.6" width="560" height="110"/></clipPath>
<g clip-path="url(#cpWm)">
<text y="1390.6" style="font-family:'DejaVu Sans','Liberation Sans',sans-serif;font-weight:bold;font-size:129.5px" fill="#f8f1ec" filter="url(#wmsh)"><tspan x="2073.6" textLength="75.9" lengthAdjust="spacingAndGlyphs">F</tspan><tspan x="2139" textLength="99.1" lengthAdjust="spacingAndGlyphs">a</tspan><tspan x="2229.4" textLength="76.2" lengthAdjust="spacingAndGlyphs">s</tspan><tspan x="2301.5" textLength="55.6" lengthAdjust="spacingAndGlyphs">t</tspan><tspan x="2353.6" textLength="91.2" lengthAdjust="spacingAndGlyphs">B</tspan><tspan x="2433" textLength="88.7" lengthAdjust="spacingAndGlyphs">u</tspan><tspan x="2511.8" textLength="41.7" lengthAdjust="spacingAndGlyphs">l</tspan><tspan x="2545.5" textLength="41.7" lengthAdjust="spacingAndGlyphs">l</tspan></text>
</g>
</g>
<text x="32.7" y="317.3" font-size="21" fill="#51453c" textLength="399.3" lengthAdjust="spacingAndGlyphs">Ethereum / U.S. Dollar · 2W · BITSTAMP</text>
<text x="446" y="317.3" font-size="21" fill="#3f4a3b" textLength="91.3" lengthAdjust="spacingAndGlyphs">O3,759.4</text>
<text x="552" y="317.3" font-size="21" fill="#3f4a3b" textLength="87.5" lengthAdjust="spacingAndGlyphs">H3,813.7</text>
<text x="653.4" y="317.3" font-size="21" fill="#3f4a3b" textLength="86.1" lengthAdjust="spacingAndGlyphs">L3,704.0</text>
<text x="753.3" y="317.3" font-size="21" fill="#3f4a3b" textLength="86.7" lengthAdjust="spacingAndGlyphs">C3,772.1</text>
<text x="853.2" y="317.3" font-size="21" fill="#3f4a3b" textLength="154.5" lengthAdjust="spacingAndGlyphs">+13.6 (+0.36%)</text>
<text x="32.7" y="347.6" font-size="21" fill="#51453c" textLength="158" lengthAdjust="spacingAndGlyphs">EMA (50, close)</text>
<text x="205.9" y="347.6" font-size="21" fill="#e33c52" textLength="76.7" lengthAdjust="spacingAndGlyphs">2,642.0</text>
<text x="32.7" y="378.9" font-size="21" fill="#51453c" textLength="172" lengthAdjust="spacingAndGlyphs">EMA (200, close)</text>
<text x="220" y="378.9" font-size="21" fill="#2f22c9" textLength="72.7" lengthAdjust="spacingAndGlyphs">1,654.8</text>
<text x="32.7" y="409.2" font-size="21" fill="#51453c" textLength="91" lengthAdjust="spacingAndGlyphs">Vol · ETH</text>
<text x="137.3" y="409.2" font-size="21" fill="#31a47e" textLength="61.5" lengthAdjust="spacingAndGlyphs">2.83 K</text>
<rect x="2585.1" y="49" width="4.6" height="1400.5" fill="#f5e7d8"/>
<rect x="18" y="281.5" width="2690" height="5" fill="#f4e4d4"/>
<rect x="18" y="1401.5" width="2690" height="5" fill="#f4e4d4"/>
<rect x="2704.6" y="49" width="3.2" height="1400.5" fill="#f1ebe6"/>
<rect x="18" y="49" width="2.6" height="1400.5" fill="#f6eadb"/>
<line x1="18" y1="280.5" x2="2708" y2="280.5" stroke="#2a211d" stroke-width="1.1"/>
<line x1="18" y1="1400.5" x2="2708" y2="1400.5" stroke="#2a211d" stroke-width="1.1"/>
<line x1="2590.5" y1="49" x2="2590.5" y2="1449.5" stroke="#2a211d" stroke-width="1.1"/>
<clipPath id="cpAxR"><rect x="2590.5" y="49" width="117.5" height="231.5"/></clipPath>
<g clip-path="url(#cpAxR)">
<text x="2607.6" y="61.6" font-size="21" fill="#5e5047" textLength="67.1" lengthAdjust="spacingAndGlyphs">100.00</text>
<text x="2607.6" y="122.1" font-size="21" fill="#5e5047" textLength="54.9" lengthAdjust="spacingAndGlyphs">80.00</text>
<text x="2607.6" y="182.6" font-size="21" fill="#5e5047" textLength="54.9" lengthAdjust="spacingAndGlyphs">60.00</text>
<text x="2607.6" y="243.4" font-size="21" fill="#5e5047" textLength="54.9" lengthAdjust="spacingAndGlyphs">40.00</text>
</g>
<text x="2607.6" y="354.0" font-size="21" fill="#5e5047" textLength="85.4" lengthAdjust="spacingAndGlyphs">12,000.0</text>
<text x="2607.6" y="406.9" font-size="21" fill="#5e5047" textLength="73.2" lengthAdjust="spacingAndGlyphs">9,000.0</text>
<text x="2607.6" y="466.8" font-size="21" fill="#5e5047" textLength="73.2" lengthAdjust="spacingAndGlyphs">6,500.0</text>
<text x="2607.6" y="518.8" font-size="21" fill="#5e5047" textLength="73.2" lengthAdjust="spacingAndGlyphs">4,900.0</text>
<text x="2607.6" y="631.8" font-size="21" fill="#5e5047" textLength="73.2" lengthAdjust="spacingAndGlyphs">2,650.0</text>
<text x="2607.6" y="697.9" font-size="21" fill="#5e5047" textLength="73.2" lengthAdjust="spacingAndGlyphs">1,850.0</text>
<text x="2607.6" y="755.9" font-size="21" fill="#5e5047" textLength="73.2" lengthAdjust="spacingAndGlyphs">1,350.0</text>
<text x="2607.6" y="820.5" font-size="21" fill="#5e5047" textLength="54.9" lengthAdjust="spacingAndGlyphs">950.0</text>
<text x="2607.6" y="876.7" font-size="21" fill="#5e5047" textLength="54.9" lengthAdjust="spacingAndGlyphs">700.0</text>
<text x="2607.6" y="938.6" font-size="21" fill="#5e5047" textLength="54.9" lengthAdjust="spacingAndGlyphs">500.0</text>
<text x="2607.6" y="991.5" font-size="21" fill="#5e5047" textLength="54.9" lengthAdjust="spacingAndGlyphs">375.0</text>
<text x="2607.6" y="1048.6" font-size="21" fill="#5e5047" textLength="54.9" lengthAdjust="spacingAndGlyphs">275.0</text>
<text x="2607.6" y="1111.8" font-size="21" fill="#5e5047" textLength="54.9" lengthAdjust="spacingAndGlyphs">195.0</text>
<text x="2607.6" y="1166.3" font-size="21" fill="#5e5047" textLength="54.9" lengthAdjust="spacingAndGlyphs">145.0</text>
<text x="2607.6" y="1217.1" font-size="21" fill="#5e5047" textLength="54.9" lengthAdjust="spacingAndGlyphs">110.0</text>
<text x="2607.6" y="1271.2" font-size="21" fill="#5e5047" textLength="42.7" lengthAdjust="spacingAndGlyphs">82.0</text>
<text x="2607.6" y="1322.6" font-size="21" fill="#5e5047" textLength="42.7" lengthAdjust="spacingAndGlyphs">62.0</text>
<text x="2607.6" y="1377.5" font-size="21" fill="#5e5047" textLength="42.7" lengthAdjust="spacingAndGlyphs">46.0</text>
<rect x="2597" y="288.5" width="105" height="45" rx="5" fill="#fdfcfb"/>
<text x="2613.8" y="318.6" font-size="21" fill="#131313" textLength="44.5" lengthAdjust="spacingAndGlyphs">USD</text>
<path d="M2590.5,429.5 H2686 Q2689.5,429.5 2689.5,433 V453.5 Q2689.5,457 2686,457 H2590.5 Z" fill="#050505"/>
<text x="2607.6" y="450.5" font-size="21" fill="#f4f4f4" textLength="73.2" lengthAdjust="spacingAndGlyphs">7,151.4</text>
<path d="M2498,547.5 H2590.5 V575.2 H2498 Q2494.5,575.2 2494.5,571.7 V551 Q2494.5,547.5 2498,547.5 Z" fill="#68a788"/>
<path d="M2590.5,547.5 H2690.5 Q2694,547.5 2694,551 V594.8 Q2694,598.3 2690.5,598.3 H2590.5 Z" fill="#68a788"/>
<line x1="2590.5" y1="547.5" x2="2590.5" y2="598.3" stroke="#4c7f68" stroke-width="1"/>
<text x="2502.8" y="568.6" font-size="21" fill="#d6f7e4" textLength="78.5" lengthAdjust="spacingAndGlyphs">ETHUSD</text>
<text x="2607.6" y="567.7" font-size="21" fill="#d6f7e4" textLength="73.2" lengthAdjust="spacingAndGlyphs">3,772.1</text>
<text x="2608.3" y="591.5" font-size="21" fill="#c4eed6" textLength="78" lengthAdjust="spacingAndGlyphs">13d 15h</text>
<g clip-path="url(#cpTime)">
<text x="19.6" y="1432.2" font-size="19.3" font-weight="bold" letter-spacing="1.2" fill="#51453c" textLength="52.8" lengthAdjust="spacingAndGlyphs">2017</text>
<text x="222.3" y="1432.2" font-size="19.3" font-weight="bold" letter-spacing="1.2" fill="#51453c" textLength="52.8" lengthAdjust="spacingAndGlyphs">2018</text>
<text x="432.9" y="1432.2" font-size="19.3" font-weight="bold" letter-spacing="1.2" fill="#51453c" textLength="52.8" lengthAdjust="spacingAndGlyphs">2019</text>
<text x="635.6" y="1432.2" font-size="19.3" font-weight="bold" letter-spacing="1.2" fill="#51453c" textLength="52.8" lengthAdjust="spacingAndGlyphs">2020</text>
<text x="837.7" y="1432.2" font-size="19.3" font-weight="bold" letter-spacing="1.2" fill="#51453c" textLength="52.8" lengthAdjust="spacingAndGlyphs">2021</text>
<text x="1039.8" y="1432.2" font-size="19.3" font-weight="bold" letter-spacing="1.2" fill="#51453c" textLength="52.8" lengthAdjust="spacingAndGlyphs">2022</text>
<text x="1242.5" y="1432.2" font-size="19.3" font-weight="bold" letter-spacing="1.2" fill="#51453c" textLength="52.8" lengthAdjust="spacingAndGlyphs">2023</text>
<text x="1444.6" y="1432.2" font-size="19.3" font-weight="bold" letter-spacing="1.2" fill="#51453c" textLength="52.8" lengthAdjust="spacingAndGlyphs">2024</text>
<text x="1655.2" y="1432.2" font-size="19.3" font-weight="bold" letter-spacing="1.2" fill="#51453c" textLength="52.8" lengthAdjust="spacingAndGlyphs">2025</text>
<text x="1857.2" y="1432.2" font-size="19.3" font-weight="bold" letter-spacing="1.2" fill="#51453c" textLength="52.8" lengthAdjust="spacingAndGlyphs">2026</text>
<text x="2060" y="1432.2" font-size="19.3" font-weight="bold" letter-spacing="1.2" fill="#51453c" textLength="52.8" lengthAdjust="spacingAndGlyphs">2027</text>
<text x="2262.6" y="1432.2" font-size="19.3" font-weight="bold" letter-spacing="1.2" fill="#51453c" textLength="52.8" lengthAdjust="spacingAndGlyphs">2028</text>
<text x="2464.7" y="1432.2" font-size="19.3" font-weight="bold" letter-spacing="1.2" fill="#51453c" textLength="52.8" lengthAdjust="spacingAndGlyphs">2029</text>
<text x="133.9" y="1432.2" font-size="19.3" fill="#51453c" textLength="25.4" lengthAdjust="spacing">Jul</text>
<text x="336.5" y="1432.2" font-size="19.3" fill="#51453c" textLength="25.4" lengthAdjust="spacing">Jul</text>
<text x="546.6" y="1432.2" font-size="19.3" fill="#51453c" textLength="25.4" lengthAdjust="spacing">Jul</text>
<text x="749.2" y="1432.2" font-size="19.3" fill="#51453c" textLength="25.4" lengthAdjust="spacing">Jul</text>
<text x="951.3" y="1432.2" font-size="19.3" fill="#51453c" textLength="25.4" lengthAdjust="spacing">Jul</text>
<text x="1154" y="1432.2" font-size="19.3" fill="#51453c" textLength="25.4" lengthAdjust="spacing">Jul</text>
<text x="1358.3" y="1432.2" font-size="19.3" fill="#51453c" textLength="25.4" lengthAdjust="spacing">Jul</text>
<text x="1559.3" y="1432.2" font-size="19.3" fill="#51453c" textLength="25.4" lengthAdjust="spacing">Jul</text>
<text x="1769.3" y="1432.2" font-size="19.3" fill="#51453c" textLength="25.4" lengthAdjust="spacing">Jul</text>
<text x="1970.9" y="1432.2" font-size="19.3" fill="#51453c" textLength="25.4" lengthAdjust="spacing">Jul</text>
<text x="2174.1" y="1432.2" font-size="19.3" fill="#51453c" textLength="25.4" lengthAdjust="spacing">Jul</text>
<text x="2376.3" y="1432.2" font-size="19.3" fill="#51453c" textLength="25.4" lengthAdjust="spacing">Jul</text>
<text x="2579.3" y="1432.2" font-size="19.3" fill="#51453c" textLength="25.4" lengthAdjust="spacing">Jul</text>
</g>
<g fill="#ececec">
<path d="M18,1472.1 H31.5 V1488.8 H24.7 V1478.1 H18 Z"/>
<circle cx="38.3" cy="1475.1" r="3.05"/>
<path d="M45.6,1472.1 H52.9 L46.2,1488.8 H38.4 Z"/>
<text x="61.1" y="1490.8" font-size="23.3" textLength="132" lengthAdjust="spacingAndGlyphs" stroke="#ececec" stroke-width="0.35">TradingView</text>
</g>
</svg>
</body></html>
